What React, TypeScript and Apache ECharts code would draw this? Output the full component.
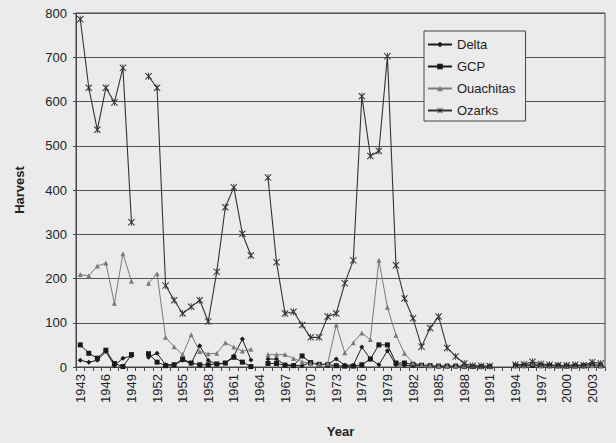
import React, { useEffect, useRef } from "react";
import * as echarts from "echarts";

const years: string[] = [];
for (let y = 1943; y <= 2004; y++) years.push(String(y));

// 1943 ... 2004 (null = no data)
const delta = [
  15, 11, 15, 35, 3, 20, 25, null, 22, 31,
  5, 5, 15, 8, 48, 15, 6, 9, 25, 63,
  16, null, 18, 18, 5, 4, 3, 10, 5, 6,
  18, 4, 4, 45, 18, 5, 37, 5, 4, 3,
  3, 3, 2, 2, 2, 2, 2, 1, 1, null,
  null, 3, 4, 5, 4, 3, 3, 3, 3, 4,
  5, 4,
];
const gcp = [
  50, 31, 20, 38, 8, 1, 28, null, 30, 11,
  3, 5, 18, 9, 5, 5, 7, 9, 22, 11,
  1, null, 8, 8, 4, 3, 25, 10, 6, 5,
  3, 2, 2, 5, 18, 50, 50, 9, 9, 6,
  4, 3, 2, 2, 2, 1, 1, 1, 1, null,
  null, 3, 3, 4, 3, 3, 3, 2, 2, 3,
  4, 3,
];
const ouachitas = [
  209, 206, 228, 235, 144, 256, 194, null, 189, 211,
  67, 46, 28, 73, 35, 30, 31, 55, 45, 36,
  40, null, 28, 28, 28, 19, 12, 8, 6, 8,
  95, 32, 55, 77, 62, 241, 135, 72, 31, 9,
  5, 4, 3, 3, 2, 2, 2, 1, 1, null,
  null, 2, 3, 8, 3, 2, 2, 2, 2, 2,
  3, 2,
];
const ozarks = [
  786, 631, 536, 631, 598, 676, 327, null, 657, 631,
  184, 151, 121, 136, 151, 103, 215, 361, 406, 301,
  252, null, 428, 237, 121, 125, 95, 67, 67, 114,
  121, 189, 241, 612, 477, 488, 702, 230, 155, 110,
  46, 88, 114, 43, 24, 8, 3, 2, 2, null,
  null, 5, 6, 12, 7, 5, 4, 4, 5, 4,
  11, 8,
];

const FONT = "'Liberation Sans', Arial, sans-serif";
const STAR = "path://M0,1L1,0L5,4L9,0L10,1L6,5L10,9L9,10L5,6L1,10L0,9L4,5ZM4.4,0L5.6,0L5.6,10L4.4,10Z";

export default function App() {
  const ref = useRef<HTMLDivElement>(null);
  useEffect(() => {
    document.body.style.margin = "0";
    document.body.style.background = "#ebebeb";
    const chart = echarts.init(ref.current!, null, { renderer: "svg" });
    const mk = (name: string, data: (number | null)[], color: string, symbol: string, size: number, width: number) => ({
      name,
      type: "line",
      data,
      connectNulls: false,
      showSymbol: true,
      showAllSymbol: true,
      symbol,
      symbolSize: size,
      lineStyle: { color, width },
      itemStyle: { color },
      emphasis: { disabled: true },
    });
    chart.setOption({
      animation: false,
      backgroundColor: "#ebebeb",
      textStyle: { fontFamily: FONT },
      grid: {
        left: 76,
        right: 11,
        top: 13,
        bottom: 74,
        show: true,
        borderColor: "#444",
        borderWidth: 1,
        backgroundColor: "transparent",
      },
      legend: {
        orient: "vertical",
        left: 424,
        top: 31,
        backgroundColor: "#ebebeb",
        borderColor: "#444",
        borderWidth: 1,
        padding: [7, 10, 4, 3],
        itemWidth: 24,
        itemHeight: 7,
        itemGap: 9,
        textStyle: { fontSize: 13, color: "#222", fontFamily: FONT },
        data: ["Delta", "GCP", "Ouachitas", "Ozarks"],
      },
      xAxis: {
        type: "category",
        data: years,
        boundaryGap: true,
        name: "Year",
        nameLocation: "middle",
        nameGap: 58,
        nameTextStyle: { fontSize: 13, fontWeight: "bold", color: "#222", fontFamily: FONT },
        axisLine: { lineStyle: { color: "#444", width: 1 } },
        axisTick: { show: true, interval: 0, length: 4, lineStyle: { color: "#444" } },
        axisLabel: { rotate: 90, interval: 2, fontSize: 13, color: "#222", margin: 7, fontFamily: FONT },
        splitLine: { show: false },
      },
      yAxis: {
        type: "value",
        min: 0,
        max: 800,
        interval: 100,
        name: "Harvest",
        nameLocation: "middle",
        nameGap: 50,
        nameTextStyle: { fontSize: 13, fontWeight: "bold", color: "#222", fontFamily: FONT },
        axisLine: { show: true, lineStyle: { color: "#444", width: 1 } },
        axisTick: { show: true, length: 3, lineStyle: { color: "#444" } },
        axisLabel: { fontSize: 13, color: "#222", margin: 9, fontFamily: FONT },
        splitLine: { show: true, lineStyle: { color: "#555", width: 1 } },
      },
      series: [
        mk("Delta", delta, "#1a1a1a", "diamond", 5, 1),
        mk("GCP", gcp, "#1a1a1a", "rect", 5, 1),
        mk("Ouachitas", ouachitas, "#7a7a7a", "triangle", 5, 1),
        mk("Ozarks", ozarks, "#333333", STAR, 7, 1.1),
      ],
    });
    return () => chart.dispose();
  }, []);
  return <div ref={ref} style={{ width: 616, height: 443, background: "#ebebeb" }} />;
}
